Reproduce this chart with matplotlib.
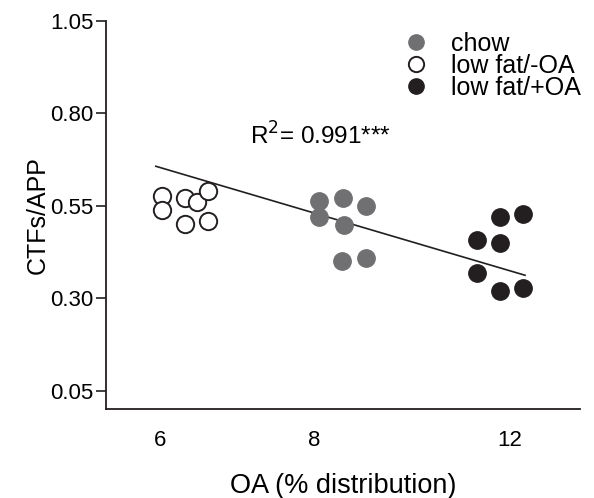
import matplotlib
matplotlib.use("Agg")
import matplotlib.pyplot as plt
from matplotlib.lines import Line2D

plt.rcParams['font.family'] = ['Liberation Sans', 'DejaVu Sans']

# x positions are in axis units (0-10 across the axis), y is CTFs/APP
tick_pos = [1.14, 4.39, 8.52]
tick_labels = ['6', '8', '12']
y_ticks = [0.05, 0.30, 0.55, 0.80, 1.05]

lowfat_noOA_x = [1.18, 1.18, 1.67, 1.91, 2.16, 1.67, 2.16]
lowfat_noOA_y = [0.577, 0.538, 0.570, 0.559, 0.589, 0.500, 0.509]

chow_x = [4.50, 4.99, 5.49, 4.50, 5.01, 4.98, 5.49]
chow_y = [0.562, 0.571, 0.550, 0.520, 0.498, 0.401, 0.410]

lowfat_OA_x = [8.31, 8.80, 7.82, 8.31, 7.82, 8.31, 8.80]
lowfat_OA_y = [0.520, 0.529, 0.458, 0.449, 0.369, 0.319, 0.328]

fit_x = [1.05, 8.84]
fit_y = [0.657, 0.362]

gray = '#707073'
black = '#231f20'

fig = plt.figure(figsize=(5.94, 4.98), dpi=100)
ax = fig.add_axes([0.1785, 0.1787, 0.798, 0.779])

ax.plot(fit_x, fit_y, color=black, lw=1.2, zorder=2)
ms = 12.5
ax.plot(lowfat_noOA_x, lowfat_noOA_y, 'o', ms=ms, mfc='white', mec=black, mew=1.4, ls='none', zorder=3)
ax.plot(chow_x, chow_y, 'o', ms=ms, mfc=gray, mec=gray, ls='none', zorder=3)
ax.plot(lowfat_OA_x, lowfat_OA_y, 'o', ms=ms, mfc=black, mec=black, ls='none', zorder=3)

ax.set_xlim(0, 10)
ax.set_ylim(0, 1.05)
ax.set_xticks(tick_pos)
ax.set_xticklabels(tick_labels)
ax.set_yticks(y_ticks)
ax.set_yticklabels([f'{v:.2f}' for v in y_ticks])
ax.tick_params(axis='x', length=0, pad=15, labelsize=16)
ax.tick_params(axis='y', length=7, width=1.2, pad=2, labelsize=16, color=black)
for s in ['top', 'right']:
    ax.spines[s].set_visible(False)
for s in ['left', 'bottom']:
    ax.spines[s].set_linewidth(1.3)
    ax.spines[s].set_color(black)

ax.set_xlabel('OA (% distribution)', fontsize=19.5, labelpad=16)
ax.set_ylabel('CTFs/APP', fontsize=18, labelpad=0)

ax.text(3.04, 0.74, r'R$^2$= 0.991***', fontsize=17.5, va='center', ha='left')

handles = [
    Line2D([], [], marker='o', ls='none', ms=11, mfc=gray, mec=gray),
    Line2D([], [], marker='o', ls='none', ms=11, mfc='white', mec=black, mew=1.4),
    Line2D([], [], marker='o', ls='none', ms=11, mfc=black, mec=black),
]
fig.legend(handles, ['chow', 'low fat/-OA', 'low fat/+OA'], loc='upper left',
           bbox_to_anchor=(0.68, 0.936), frameon=False, fontsize=18,
           handlelength=1.0, handletextpad=0.9, labelspacing=-0.08,
           borderpad=0, borderaxespad=0)

fig.savefig('out.png', dpi=100)
